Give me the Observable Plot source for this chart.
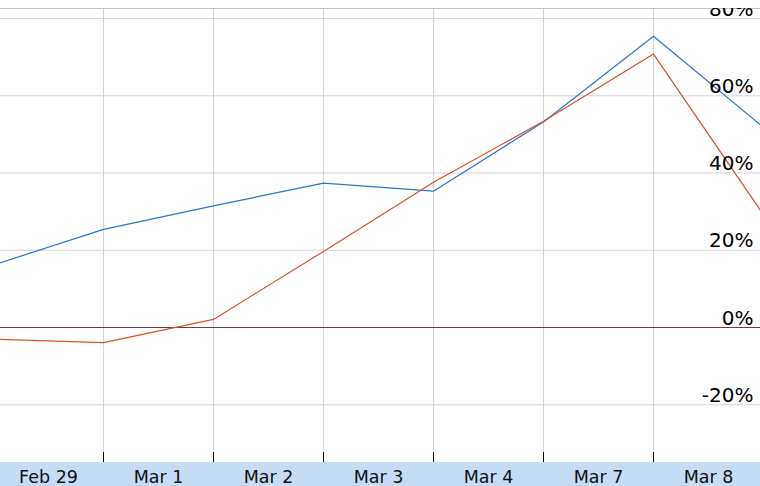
<!DOCTYPE html>
<html>
<head>
<meta charset="utf-8">
<script src="https://cdn.jsdelivr.net/npm/d3@7"></script>
<script src="https://cdn.jsdelivr.net/npm/@observablehq/plot@0.6"></script>
<style>
  html, body { margin: 0; padding: 0; background: #fff; }
  #chart svg { display: block; }
</style>
</head>
<body>
<div id="chart"></div>
<script>
// Category labels (placed between the tick positions)
const labels = ["Feb 29", "Mar 1", "Mar 2", "Mar 3", "Mar 4", "Mar 7", "Mar 8"];
// Series values (percent), one per tick position 0..7
const seriesBlue = [16.2, 25.4, 31.5, 37.4, 35.3, 53.2, 75.4, 51.8];
const seriesRed  = [-3.0, -3.9, 2.1, 19.7, 37.6, 53.4, 70.8, 29.2];
// Y-axis tick values
const yTicks = [-20, 0, 20, 40, 60, 80];
// X tick positions (boundaries between labels)
const xTicks = [1, 2, 3, 4, 5, 6];

const blueData = seriesBlue.map((v, i) => ({i, v}));
const redData = seriesRed.map((v, i) => ({i, v}));

const yDomain = [-34.95, 82.59];
const xDomain = [7 / 110, 767 / 110];

const chart = Plot.plot({
  width: 760,
  height: 486,
  marginTop: 8,
  marginBottom: 24,
  marginLeft: 0,
  marginRight: 0,
  x: {type: "linear", domain: xDomain, axis: null},
  y: {domain: yDomain, axis: null},
  style: {
    background: "linear-gradient(to bottom, #ffffff 462px, #c6dcf4 462px)",
    fontFamily: "'DejaVu Sans', Verdana, sans-serif",
    overflow: "hidden"
  },
  marks: [
    Plot.gridY(yTicks, {stroke: "#d4d4dc", strokeOpacity: 1}),
    Plot.gridX(xTicks, {stroke: "#d4d4dc", strokeOpacity: 1}),
    Plot.ruleY([yDomain[1]], {stroke: "#c4c4c8"}),
    Plot.ruleY([0], {stroke: "#6e3a46"}),
    Plot.ruleX(xTicks, {insetTop: 444, stroke: "#000"}),
    Plot.line(blueData, {x: "i", y: "v", stroke: "#2f74cc", strokeWidth: 1.2, clip: true}),
    Plot.line(redData, {x: "i", y: "v", stroke: "#d9502e", strokeWidth: 1.2, clip: true}),
    Plot.text(yTicks, {
      y: d => d, text: d => `${d}%`, frameAnchor: "right", textAnchor: "end",
      lineAnchor: "bottom", dx: -7, dy: -3, fontSize: 20, fill: "#000", clip: true
    }),
    Plot.text(labels, {
      x: (d, i) => i + 0.5, text: d => d, frameAnchor: "bottom",
      lineAnchor: "bottom", dy: 20, fontSize: 17.5, fill: "#111"
    })
  ]
});
document.getElementById("chart").appendChild(chart);
</script>
</body>
</html>
